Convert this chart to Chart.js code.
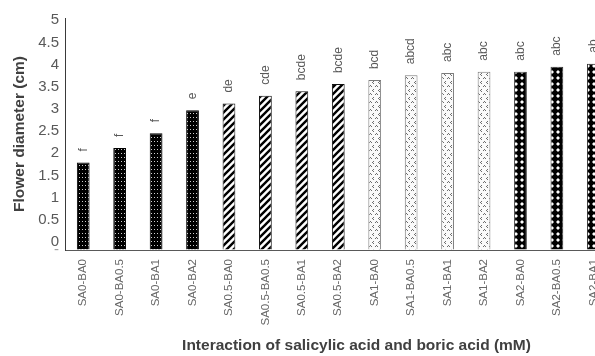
<!DOCTYPE html>
<html>
<head>
<meta charset="utf-8">
<script src="https://cdn.jsdelivr.net/npm/chart.js@4/dist/chart.umd.min.js"></script>
<style>
  html, body { margin: 0; padding: 0; background: #fff; overflow: hidden; }
  #wrap { width: 660px; height: 356px; }
</style>
</head>
<body>
<div id="wrap"><canvas id="chart" width="660" height="356"></canvas></div>
<script>
// data (last category is cut off in the reference)
const categories = ['SA0-BA0', 'SA0-BA0.5', 'SA0-BA1', 'SA0-BA2',
    'SA0.5-BA0', 'SA0.5-BA0.5', 'SA0.5-BA1', 'SA0.5-BA2',
    'SA1-BA0', 'SA1-BA0.5', 'SA1-BA1', 'SA1-BA2',
    'SA2-BA0', 'SA2-BA0.5', 'SA2-BA1', 'SA2-BA2'];
const diameter = [1.79, 2.12, 2.45, 2.97, 3.12, 3.30, 3.40, 3.56,
    3.65, 3.76, 3.81, 3.84, 3.84, 3.95, 4.02, null];
const letters = ['f', 'f', 'f', 'e', 'de', 'cde', 'bcde', 'bcde',
    'bcd', 'abcd', 'abc', 'abc', 'abc', 'abc', 'ab', ''];
const yTicks = [0, 0.5, 1, 1.5, 2, 2.5, 3, 3.5, 4, 4.5, 5];
const yMin = -0.18;
const yMax = 5.05;

const FONT = '"Liberation Sans", Arial, sans-serif';

// 1. fill patterns
function makeTile(w, h, draw) {
    const c = document.createElement('canvas');
    c.width = w; c.height = h;
    const g = c.getContext('2d');
    draw(g);
    return document.getElementById('chart').getContext('2d').createPattern(c, 'repeat');
}

const dotted = makeTile(3, 4, g => {
    g.fillStyle = '#000'; g.fillRect(0, 0, 3, 4);
    g.fillStyle = '#d0d0d0'; g.fillRect(1, 1, 1, 1);
});

const striped = makeTile(7, 7, g => {
    g.fillStyle = '#fff'; g.fillRect(0, 0, 7, 7);
    g.strokeStyle = '#000'; g.lineWidth = 2.4;
    g.beginPath();
    g.moveTo(-1, 8); g.lineTo(8, -1);
    g.moveTo(-4, 4); g.lineTo(4, -4);
    g.moveTo(3, 11); g.lineTo(11, 3);
    g.stroke();
});

const confetti = makeTile(6, 8, g => {
    g.fillStyle = '#fafafa'; g.fillRect(0, 0, 6, 8);
    g.fillStyle = '#6e6e6e';
    g.fillRect(1, 1, 1, 1); g.fillRect(0, 2, 1, 1); g.fillRect(1, 3, 1, 1);
    g.fillRect(4, 5, 1, 1); g.fillRect(3, 6, 1, 1); g.fillRect(5, 6, 1, 1);
});

const diamonds = makeTile(6, 6, g => {
    g.fillStyle = '#fff'; g.fillRect(0, 0, 6, 6);
    g.fillStyle = '#000';
    g.beginPath();
    g.moveTo(3, -1); g.lineTo(7, 3); g.lineTo(3, 7); g.lineTo(-1, 3);
    g.closePath(); g.fill();
});

const fills = categories.map((c, i) => [dotted, striped, confetti, diamonds][Math.floor(i / 4)]);
const borders = categories.map((c, i) => ['#000', '#111', '#7a7a7a', '#333'][Math.floor(i / 4)]);

// 2. letters above bars
const letterPlugin = {
    id: 'letters',
    afterDatasetsDraw(chart) {
        const ctx = chart.ctx;
        const meta = chart.getDatasetMeta(0);
        ctx.save();
        ctx.font = '12px ' + FONT;
        ctx.fillStyle = '#595959';
        ctx.textAlign = 'left';
        ctx.textBaseline = 'middle';
        meta.data.forEach((bar, i) => {
            if (diameter[i] == null || !letters[i]) return;
            ctx.save();
            ctx.translate(bar.x, bar.y - 11);
            ctx.rotate(-Math.PI / 2);
            ctx.fillText(letters[i], 0, 0);
            ctx.restore();
        });
        ctx.restore();
    }
};

// 3. chart
new Chart(document.getElementById('chart'), {
    type: 'bar',
    data: {
        labels: categories,
        datasets: [{
            data: diameter,
            base: yMin,
            backgroundColor: fills,
            borderColor: borders,
            borderWidth: 1,
            categoryPercentage: 0.35,
            barPercentage: 1
        }]
    },
    options: {
        responsive: false,
        animation: false,
        layout: { padding: { top: 18, right: 12, left: 0, bottom: 0 } },
        plugins: {
            legend: { display: false },
            tooltip: { enabled: false }
        },
        scales: {
            x: {
                grid: { display: true, color: 'rgba(0,0,0,0)', drawTicks: false },
                border: { display: true, color: '#595959', width: 1 },
                ticks: {
                    color: '#666666',
                    font: { family: FONT, size: 11.5 },
                    minRotation: 90,
                    maxRotation: 90,
                    autoSkip: false,
                    padding: 9
                },
                title: {
                    display: true,
                    text: 'Interaction of salicylic acid and boric acid (mM)',
                    color: '#404040',
                    font: { family: FONT, size: 15.5, weight: 'bold' },
                    padding: { top: 0, bottom: 1 }
                },
                afterFit: scale => { scale.height = 106; }
            },
            y: {
                min: yMin,
                max: yMax,
                grid: { display: true, color: 'rgba(0,0,0,0)', drawTicks: false },
                border: { display: true, color: '#3a3a3a', width: 1 },
                afterBuildTicks: scale => {
                    scale.ticks = [{ value: yMin }].concat(yTicks.map(v => ({ value: v })));
                },
                ticks: {
                    autoSkip: false,
                    color: ctx => ctx.tick.value === yMin ? '#a0a0a0' : '#595959',
                    font: { family: FONT, size: 15 },
                    padding: 6,
                    callback: v => v === yMin ? '-' : String(v)
                },
                title: {
                    display: true,
                    text: 'Flower diameter (cm)',
                    color: '#404040',
                    font: { family: FONT, size: 15.5, weight: 'bold' },
                    padding: { top: 10, bottom: 0 }
                },
                afterFit: scale => { scale.width = 65; }
            }
        }
    },
    plugins: [letterPlugin]
});
</script>
</body>
</html>
